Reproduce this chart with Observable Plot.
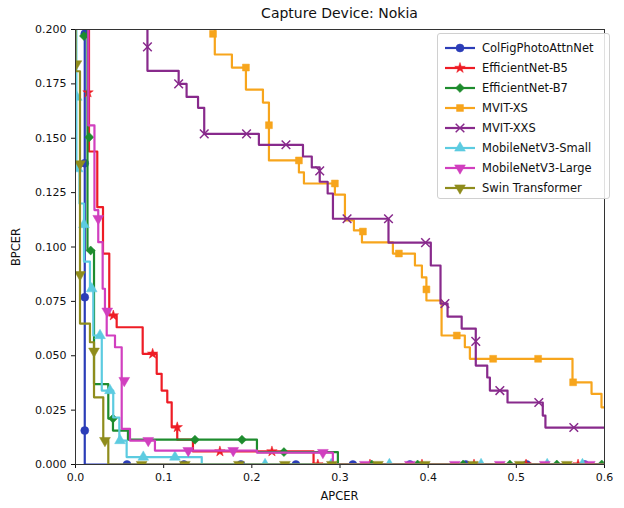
<!DOCTYPE html>
<html><head><meta charset="utf-8">
<script src="https://cdn.jsdelivr.net/npm/d3@7"></script>
<script src="https://cdn.jsdelivr.net/npm/@observablehq/plot@0.6"></script>
<style>
body{margin:0;background:#fff;font-family:"DejaVu Sans",sans-serif;}
#wrap{position:relative;width:624px;height:508px;overflow:hidden;}
#title{position:absolute;left:75px;width:529px;top:5px;text-align:center;font-size:14px;color:#111;}
#xlab{position:absolute;left:75px;width:529px;top:489px;text-align:center;font-size:11.5px;color:#111;}
#ylab{position:absolute;left:16px;top:247px;transform:translate(-50%,-50%) rotate(-90deg);font-size:11.5px;color:#111;white-space:nowrap;}
#legend{position:absolute;left:437px;top:33px;width:173px;height:166px;border:1px solid #d0d0d0;border-radius:3px;background:rgba(255,255,255,0.85);box-sizing:border-box;}
.item{position:absolute;left:6px;height:18px;display:flex;align-items:center;font-size:11.5px;color:#111;white-space:nowrap;}
.item svg{margin-right:6px;}
</style></head><body><div id="wrap"><div id="title">Capture Device: Nokia</div><div id="xlab">APCER</div><div id="ylab">BPCER</div></div>
<script>
// ---- data (APCER, BPCER) ----
const seriesNames = ["ColFigPhotoAttnNet","EfficientNet-B5","EfficientNet-B7","MVIT-XS","MVIT-XXS","MobileNetV3-Small","MobileNetV3-Large","Swin Transformer"];
const seriesColors = ["#2b3db8","#ee1c25","#1e8c2e","#f7a51c","#882a8c","#5ccbe0","#d13fbf","#8f8c1c"];
const seriesSymbols = ["circle","star","square","square","times","triangle","triangle","triangle"];
const seriesRotate = [0,0,45,0,0,0,180,180];
const xTicks = [0,0.1,0.2,0.3,0.4,0.5,0.6];
const yTicks = [0,0.025,0.05,0.075,0.1,0.125,0.15,0.175,0.2];

// step curves: [apcer where the drop happens, new bpcer level]
const colfigSteps = [[0.0105,0.25],[0.0105,0],[0.6,0]];
const colfigMarks = [[0.0105,0.198],[0.0105,0.1385],[0.0105,0.0769],[0.0105,0.0156],[0.0584,0],[0.123,0],[0.1876,0],[0.25,0],[0.3146,0],[0.3793,0],[0.4427,0],[0.5119,0],[0.5777,0]];

const b5Steps = [[0.0153,0.25],[0.0153,0.1439],[0.0247,0.1183],[0.0312,0.097],[0.0383,0.0685],[0.0467,0.0631],[0.0762,0.0509],[0.0921,0.0417],[0.0977,0.034],[0.1041,0.0286],[0.1091,0.0171],[0.1154,0.0114],[0.1332,0.006],[0.27,0],[0.6,0]];
const b5Marks = [[0.0142,0.171],[0.0429,0.0685],[0.0875,0.0509],[0.1154,0.0171],[0.1638,0.006],[0.2228,0.006],[0.2749,0],[0.334,0],[0.393,0],[0.452,0],[0.511,0],[0.57,0]];

const b7Steps = [[0.0136,0.25],[0.0136,0.0984],[0.021,0.037],[0.0372,0.0211],[0.0425,0.0156],[0.0595,0.0114],[0.2058,0.0057],[0.2976,0],[0.6,0]];
const b7Marks = [[0.0096,0.197],[0.0156,0.1505],[0.0172,0.0984],[0.0425,0.0211],[0.1355,0.0114],[0.1888,0.0114],[0.2364,0.0057],[0.336,0],[0.388,0],[0.4396,0],[0.4926,0],[0.5459,0],[0.5969,0]];

const xsSteps = [[0.158,0.25],[0.158,0.1885],[0.1774,0.1825],[0.1933,0.1724],[0.2126,0.1664],[0.2194,0.1398],[0.2534,0.1343],[0.2591,0.1292],[0.2942,0.1241],[0.3056,0.1122],[0.3158,0.1076],[0.3249,0.1021],[0.36,0.097],[0.385,0.0915],[0.3929,0.086],[0.398,0.0754],[0.4152,0.0593],[0.4416,0.0539],[0.4473,0.0486],[0.5637,0.0378],[0.5853,0.0325],[0.5966,0.0263],[0.6,0.0263]];
const xsMarks = [[0.156,0.198],[0.1933,0.1825],[0.2194,0.156],[0.2534,0.1398],[0.2942,0.1292],[0.326,0.1071],[0.3668,0.097],[0.398,0.0805],[0.4325,0.0593],[0.4737,0.0486],[0.5247,0.0486],[0.5644,0.0378]];

const xxsSteps = [[0.0816,0.25],[0.0816,0.181],[0.117,0.175],[0.126,0.169],[0.139,0.164],[0.146,0.152],[0.208,0.147],[0.258,0.1416],[0.268,0.1366],[0.277,0.13],[0.286,0.1246],[0.292,0.113],[0.355,0.102],[0.403,0.0915],[0.414,0.074],[0.422,0.068],[0.438,0.0625],[0.454,0.0455],[0.467,0.04],[0.47,0.034],[0.49,0.0285],[0.53,0.0225],[0.533,0.017],[0.6,0.017]];
const xxsMarks = [[0.0816,0.192],[0.117,0.175],[0.146,0.152],[0.194,0.152],[0.2387,0.147],[0.277,0.135],[0.308,0.113],[0.355,0.113],[0.397,0.102],[0.419,0.074],[0.454,0.0566],[0.4813,0.034],[0.5255,0.0285],[0.5652,0.017]];

const smallSteps = [[0.001,0.25],[0.001,0.136],[0.0045,0.12],[0.0096,0.0933],[0.0164,0.0808],[0.0202,0.0593],[0.0298,0.034],[0.0428,0.0216],[0.0497,0.011],[0.058,0.0034],[0.1432,0],[0.6,0]];
const smallMarks = [[0.0014,0.1689],[0.0025,0.136],[0.0096,0.1103],[0.0184,0.0808],[0.0278,0.0593],[0.0391,0.034],[0.0505,0.011],[0.0769,0.0034],[0.1128,0.0034],[0.215,0],[0.29,0],[0.356,0],[0.46,0],[0.535,0],[0.575,0]];

const largeSteps = [[0.0145,0.25],[0.0145,0.1559],[0.0215,0.117],[0.0258,0.1022],[0.0308,0.0808],[0.0334,0.0708],[0.0354,0.0593],[0.0448,0.0539],[0.0524,0.0164],[0.0618,0.011],[0.0901,0.0064],[0.2058,0.0055],[0.2919,0],[0.6,0]];
const largeMarks = [[0.0258,0.1131],[0.036,0.0705],[0.0553,0.0386],[0.0825,0.011],[0.1279,0.0064],[0.1789,0.0064],[0.2806,0.0055],[0.3282,0],[0.3793,0],[0.4303,0],[0.4813,0],[0.5323,0],[0.5833,0]];

const swinSteps = [[0.0,0.25],[0.0,0.1808],[0.0051,0.0648],[0.0164,0.0562],[0.021,0.0309],[0.0315,0.011],[0.0372,0],[0.6,0]];
const swinMarks = [[0.001,0.1842],[0.0051,0.1382],[0.0051,0.0873],[0.021,0.0521],[0.0334,0.011],[0.075,0],[0.124,0],[0.1854,0],[0.2375,0],[0.2908,0],[0.343,0],[0.3962,0],[0.4507,0],[0.504,0],[0.5573,0]];

const allSteps = [colfigSteps,b5Steps,b7Steps,xsSteps,xxsSteps,smallSteps,largeSteps,swinSteps];
const allMarks = [colfigMarks,b5Marks,b7Marks,xsMarks,xxsMarks,smallMarks,largeMarks,swinMarks];

function markerR(i) {
  const s = seriesSymbols[i];
  if (s === "star") return 3.3;
  if (s === "square") return seriesRotate[i] ? 3.6 : 3.9;
  return 4;
}

// ---- build marks ----
const marks = [];
seriesNames.forEach((name, i) => {
  const line = allSteps[i].map(([x, y]) => ({series: name, x, y}));
  const pts = allMarks[i].map(([x, y]) => ({series: name, x, y}));
  marks.push(Plot.line(line, {x: "x", y: "y", curve: "step-after", stroke: seriesColors[i], strokeWidth: 2.2, clip: true}));
  const isStroke = seriesSymbols[i] === "times";
  marks.push(Plot.dot(pts, {
    x: "x", y: "y", symbol: () => seriesSymbols[i], r: markerR(i),
    rotate: seriesRotate[i],
    fill: isStroke ? "none" : seriesColors[i],
    stroke: seriesColors[i], strokeWidth: isStroke ? 1.5 : 0.5, clip: true
  }));
});
marks.push(Plot.frame({stroke: "#333", strokeWidth: 1}));

const chart = Plot.plot({
  width: 624, height: 508,
  marginLeft: 75, marginRight: 20, marginTop: 29, marginBottom: 44,
  style: {fontFamily: "DejaVu Sans", fontSize: "11px", color: "#111", background: "#fff"},
  x: {domain: [0, 0.6], ticks: xTicks, tickFormat: d3.format(".1f"), tickSize: 4, label: null},
  y: {domain: [0, 0.2], ticks: yTicks, tickFormat: d3.format(".3f"), tickSize: 4, label: null},
  symbol: {type: "identity"},
  marks
});
const wrap = document.getElementById("wrap");
wrap.insertBefore(chart, wrap.firstChild);

// ---- legend ----
const legend = document.createElement("div");
legend.id = "legend";
const symMap = {circle: d3.symbolCircle, star: d3.symbolStar, square: d3.symbolSquare, times: d3.symbolTimes, triangle: d3.symbolTriangle};
seriesNames.forEach((name, i) => {
  const item = document.createElement("div");
  item.className = "item";
  item.style.top = (5 + 20 * i) + "px";
  const isStroke = seriesSymbols[i] === "times";
  const r = markerR(i);
  const path = d3.symbol(symMap[seriesSymbols[i]], Math.PI * r * r)();
  item.innerHTML = `<svg width="32" height="14"><line x1="1" x2="31" y1="7" y2="7" stroke="${seriesColors[i]}" stroke-width="2.2"/>` +
    `<path d="${path}" transform="translate(16,7) rotate(${seriesRotate[i]})" fill="${isStroke ? "none" : seriesColors[i]}" stroke="${seriesColors[i]}" stroke-width="${isStroke ? 1.5 : 0.5}"/></svg><span>${name}</span>`;
  legend.appendChild(item);
});
wrap.appendChild(legend);
</script></body></html>
